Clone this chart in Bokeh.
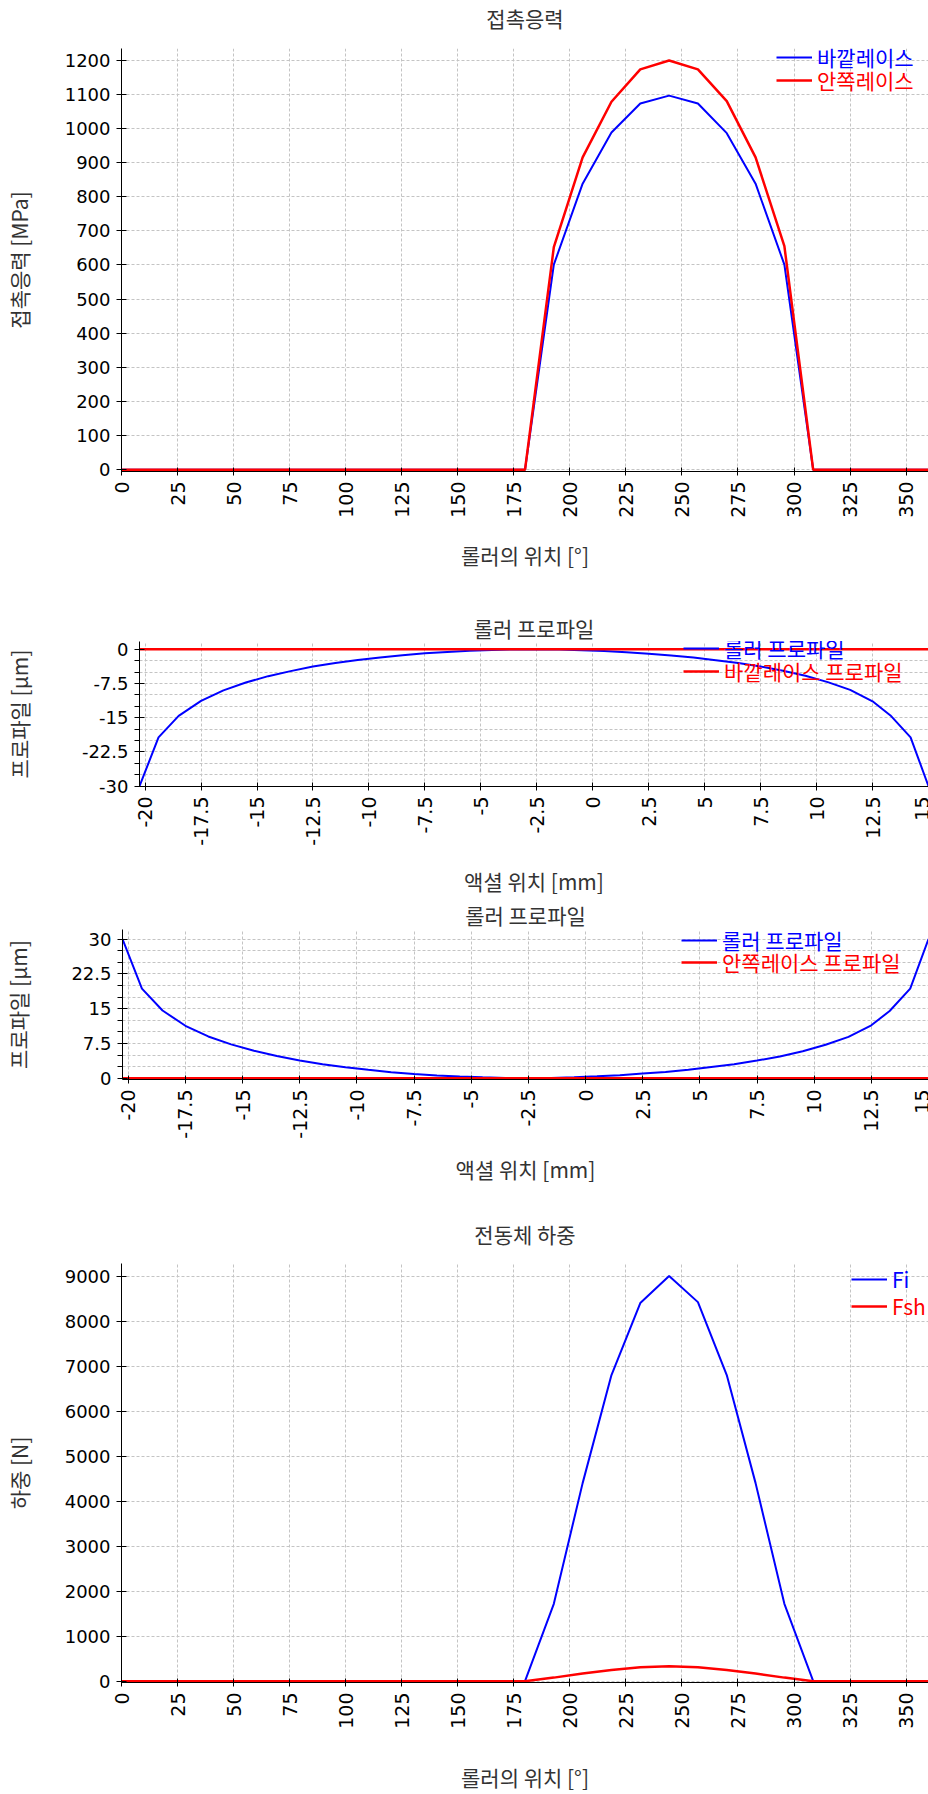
import math
from bokeh.plotting import figure
from bokeh.models import FixedTicker, Legend, LegendItem, Range1d, Title
from bokeh.embed import file_html
from bokeh.resources import INLINE

# ---------------- data ----------------
roller_angle_deg = [0, 12.86, 25.71, 38.57, 51.43, 64.29, 77.14, 90, 102.86, 115.71,
                    128.57, 141.43, 154.29, 167.14, 180, 192.86, 205.71, 218.57, 231.43,
                    244.29, 257.14, 270, 282.86, 295.71, 308.57, 321.43, 334.29, 347.14, 360]
stress_outer_mpa = [0, 0, 0, 0, 0, 0, 0, 0, 0, 0, 0, 0, 0, 0, 0,
                    601, 838, 988, 1073, 1096, 1073, 986, 838, 601,
                    0, 0, 0, 0, 0]
stress_inner_mpa = [0, 0, 0, 0, 0, 0, 0, 0, 0, 0, 0, 0, 0, 0, 0,
                    652, 915, 1078, 1173, 1199, 1173, 1080, 915, 655,
                    0, 0, 0, 0, 0]
load_fi_n = [0, 0, 0, 0, 0, 0, 0, 0, 0, 0, 0, 0, 0, 0, 0,
             1720, 4400, 6800, 8400, 9000, 8420, 6800, 4400, 1720,
             0, 0, 0, 0, 0]
load_fsh_n = [0, 0, 0, 0, 0, 0, 0, 0, 0, 0, 0, 0, 0, 0, 0,
              80, 170, 250, 310, 335, 312, 250, 170, 80,
              0, 0, 0, 0, 0]

axial_pos_mm = [-20.25, -19.4, -18.5, -17.5, -16.5, -15.5, -14.5, -13.5, -12.5, -11.5,
                -10.5, -9.5, -8.5, -7.5, -6.5, -5.5, -4.5, -3.5, -2.5, -1.5,
                -0.5, 0.5, 1.5, 2.5, 3.5, 4.5, 5.5, 6.5, 7.5, 8.5,
                9.5, 10.5, 11.5, 12.5, 13.3, 14.2, 15.0]
roller_profile_outer_um = [-30.0, -19.3, -14.6, -11.3, -9.0, -7.3, -5.9, -4.8, -3.8, -3.0,
                           -2.35, -1.8, -1.3, -0.9, -0.6, -0.35, -0.18, -0.05, 0.0, -0.05,
                           -0.2, -0.4, -0.65, -1.0, -1.35, -1.8, -2.4, -3.0, -3.8, -4.7,
                           -5.8, -7.2, -8.9, -11.4, -14.5, -19.3, -30.0]
outer_race_profile_um = [0, 0, 0, 0, 0, 0, 0, 0, 0, 0, 0, 0, 0, 0, 0, 0, 0, 0, 0, 0,
                         0, 0, 0, 0, 0, 0, 0, 0, 0, 0, 0, 0, 0, 0, 0, 0, 0]
roller_profile_inner_um = [30.0, 19.3, 14.6, 11.3, 9.0, 7.3, 5.9, 4.8, 3.8, 3.0,
                           2.35, 1.8, 1.3, 0.9, 0.6, 0.35, 0.18, 0.05, 0.0, 0.05,
                           0.2, 0.4, 0.65, 1.0, 1.35, 1.8, 2.4, 3.0, 3.8, 4.7,
                           5.8, 7.2, 8.9, 11.4, 14.5, 19.3, 30.0]
inner_race_profile_um = [0, 0, 0, 0, 0, 0, 0, 0, 0, 0, 0, 0, 0, 0, 0, 0, 0, 0, 0, 0,
                         0, 0, 0, 0, 0, 0, 0, 0, 0, 0, 0, 0, 0, 0, 0, 0, 0]

angle_ticks = [0, 25, 50, 75, 100, 125, 150, 175, 200, 225, 250, 275, 300, 325, 350]
stress_ticks = [0, 100, 200, 300, 400, 500, 600, 700, 800, 900, 1000, 1100, 1200]
load_ticks = [0, 1000, 2000, 3000, 4000, 5000, 6000, 7000, 8000, 9000]
axial_ticks = [-20, -17.5, -15, -12.5, -10, -7.5, -5, -2.5, 0, 2.5, 5, 7.5, 10, 12.5, 15]
axial_tick_labels = ["-20", "-17.5", "-15", "-12.5", "-10", "-7.5", "-5", "-2.5", "0",
                     "2.5", "5", "7.5", "10", "12.5", "15"]
neg_profile_ticks = [0, -7.5, -15, -22.5, -30]
neg_profile_labels = ["0", "-7.5", "-15", "-22.5", "-30"]
neg_profile_minor = [-2.5, -5, -10, -12.5, -17.5, -20, -25, -27.5]
pos_profile_ticks = [0, 7.5, 15, 22.5, 30]
pos_profile_labels = ["0", "7.5", "15", "22.5", "30"]
pos_profile_minor = [2.5, 5, 10, 12.5, 17.5, 20, 25, 27.5]

# ---------------- style ----------------
KR = "Noto Sans CJK KR"
TICKF = "DejaVu Sans"
GRID = "#c4c4c4"
BLUE = "#0000ff"
RED = "#ff0000"
W = 928


def make_fig(height, left, top, bottom, xr, yr, title, title_standoff, spacer,
             xlabel, ylabel, ylab_standoff, xlab_standoff):
    p = figure(width=W, height=height, x_range=xr, y_range=yr,
               output_backend="svg", toolbar_location=None,
               min_border_left=left, min_border_right=0,
               min_border_top=top, min_border_bottom=bottom)
    p.outline_line_color = None
    p.background_fill_color = "white"
    p.border_fill_color = "white"
    p.title.text = ""
    if spacer is not None:
        p.add_layout(Title(text=" ", text_font_size="1px", standoff=spacer), "above")
    p.add_layout(Title(text=title, align="center", text_font=KR, text_font_size="21px",
                       text_font_style="normal", text_color="#333333",
                       standoff=title_standoff), "above")
    p.xaxis.axis_label = xlabel
    p.yaxis.axis_label = ylabel
    for ax in (p.xaxis, p.yaxis):
        ax.axis_label_text_font = KR
        ax.axis_label_text_font_size = "21px"
        ax.axis_label_text_font_style = "normal"
        ax.axis_label_text_color = "#333333"
        ax.axis_line_color = "black"
        ax.major_tick_line_color = "black"
        ax.major_label_text_color = "black"
        ax.major_label_text_font = TICKF
    p.yaxis.major_label_text_font_size = "18px"
    p.xaxis.major_label_text_font_size = "19px"
    p.yaxis.major_tick_out = 5
    p.yaxis.major_tick_in = 5
    p.xaxis.major_tick_out = 4
    p.xaxis.major_tick_in = 4
    p.yaxis.major_label_standoff = 6
    p.xaxis.major_label_standoff = 6
    p.yaxis.axis_label_standoff = ylab_standoff
    p.xaxis.axis_label_standoff = xlab_standoff
    p.xaxis.major_label_orientation = math.pi / 2
    p.xaxis.minor_tick_line_color = None
    p.xgrid.grid_line_color = GRID
    p.xgrid.grid_line_dash = "3 2"
    p.ygrid.grid_line_color = GRID
    p.ygrid.grid_line_dash = "3 2"
    return p


def add_legend(p, renderer, label, color, vx, vy):
    lg = Legend(items=[LegendItem(label=label, renderers=[renderer])],
                location=(vx, vy), padding=0, margin=0, spacing=0,
                border_line_color=None, background_fill_alpha=0,
                glyph_width=36, glyph_height=20, label_standoff=5,
                label_height=20, label_text_font=KR, label_text_font_size="21px",
                label_text_color=color)
    p.add_layout(lg)


# ---------- plot 1: contact stress ----------
p1 = make_fig(610, 121, 45, 139, Range1d(0, 360), Range1d(-4.9, 1234),
              "접촉응력", 0, 12.5, "롤러의 위치 [°]", "접촉응력 [MPa]", 28, 19)
p1.xaxis.ticker = FixedTicker(ticks=angle_ticks)
p1.yaxis.ticker = FixedTicker(ticks=stress_ticks)
r1a = p1.line(roller_angle_deg, stress_outer_mpa, line_color=BLUE, line_width=2)
r1b = p1.line(roller_angle_deg, stress_inner_mpa, line_color=RED, line_width=2.5)
add_legend(p1, r1a, "바깥레이스", BLUE, 655, 399)
add_legend(p1, r1b, "안쪽레이스", RED, 655, 376)

# ---------- plot 2: roller profile / outer race ----------
p2 = make_fig(288, 137, 31, 107, Range1d(-20.25, 15), Range1d(-30.06, 1.69),
              "롤러 프로파일", -2.8, None, "액셜 위치 [mm]", "프로파일 [µm]", 45, 17)
p2.xaxis.ticker = FixedTicker(ticks=axial_ticks)
p2.xaxis.major_label_overrides = dict(zip(axial_ticks, axial_tick_labels))
p2.yaxis.ticker = FixedTicker(ticks=neg_profile_ticks, minor_ticks=neg_profile_minor)
p2.yaxis.major_label_overrides = dict(zip(neg_profile_ticks, neg_profile_labels))
p2.yaxis.minor_tick_out = 5
p2.yaxis.minor_tick_in = 0
p2.yaxis.minor_tick_line_color = "black"
p2.ygrid.minor_grid_line_color = GRID
p2.ygrid.minor_grid_line_dash = "3 2"
r2a = p2.line(axial_pos_mm, roller_profile_outer_um, line_color=BLUE, line_width=2)
r2b = p2.line(axial_pos_mm, outer_race_profile_um, line_color=RED, line_width=2.5)
add_legend(p2, r2a, "롤러 프로파일", BLUE, 544, 123)
add_legend(p2, r2b, "바깥레이스 프로파일", RED, 544, 100)

# ---------- plot 3: roller profile / inner race ----------
p3 = make_fig(305, 121, 29, 124, Range1d(-20.25, 15), Range1d(-0.28, 32.06),
              "롤러 프로파일", -0.8, None, "액셜 위치 [mm]", "프로파일 [µm]", 35, 12)
p3.xaxis.ticker = FixedTicker(ticks=axial_ticks)
p3.xaxis.major_label_overrides = dict(zip(axial_ticks, axial_tick_labels))
p3.yaxis.ticker = FixedTicker(ticks=pos_profile_ticks, minor_ticks=pos_profile_minor)
p3.yaxis.major_label_overrides = dict(zip(pos_profile_ticks, pos_profile_labels))
p3.yaxis.minor_tick_out = 5
p3.yaxis.minor_tick_in = 0
p3.yaxis.minor_tick_line_color = "black"
p3.ygrid.minor_grid_line_color = GRID
p3.ygrid.minor_grid_line_dash = "3 2"
r3a = p3.line(axial_pos_mm, roller_profile_inner_um, line_color=BLUE, line_width=2)
r3b = p3.line(axial_pos_mm, inner_race_profile_um, line_color=RED, line_width=2.5)
add_legend(p3, r3a, "롤러 프로파일", BLUE, 559, 124)
add_legend(p3, r3b, "안쪽레이스 프로파일", RED, 559, 102)

# ---------- plot 4: rolling element load ----------
p4 = make_fig(591, 121, 60, 106, Range1d(0, 360), Range1d(-28.5, 9278),
              "전동체 하중", 0, 11.5, "롤러의 위치 [°]", "하중 [N]", 28, 30)
p4.xaxis.ticker = FixedTicker(ticks=angle_ticks)
p4.yaxis.ticker = FixedTicker(ticks=load_ticks)
r4a = p4.line(roller_angle_deg, load_fi_n, line_color=BLUE, line_width=2)
r4b = p4.line(roller_angle_deg, load_fsh_n, line_color=RED, line_width=2.5)
add_legend(p4, r4a, "Fi", BLUE, 730, 388)
add_legend(p4, r4b, "Fsh", RED, 730, 361)

open("out.html", "w").write(file_html([p1, p2, p3, p4], INLINE))
